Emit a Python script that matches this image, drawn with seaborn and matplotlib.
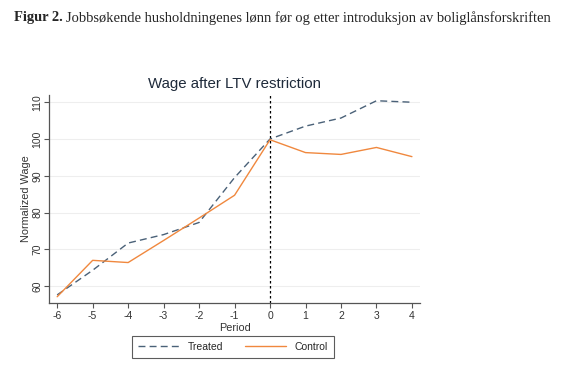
import matplotlib
matplotlib.use("Agg")
import matplotlib.pyplot as plt
import seaborn as sns
import pandas as pd

periods = [-6, -5, -4, -3, -2, -1, 0, 1, 2, 3, 4]
treated = [57.6, 64.3, 71.7, 74.0, 77.3, 89.5, 100.0, 103.5, 105.7, 110.4, 110.0]
control = [57.1, 67.0, 66.4, 72.4, 78.5, 84.7, 99.8, 96.3, 95.8, 97.7, 95.2]
yticks = [60, 70, 80, 90, 100, 110]
xticks = periods

sns.set_theme(style="white")
plt.rcParams['font.family'] = ['Liberation Sans', 'DejaVu Sans']

fig = plt.figure(figsize=(5.7, 3.72), dpi=100)
ax = fig.add_axes([0.086, 0.1855, 0.651, 0.5595])

df_t = pd.DataFrame({"Period": periods, "Wage": treated})
df_c = pd.DataFrame({"Period": periods, "Wage": control})

navy = "#4a6178"
orange = "#f0883e"
for y in yticks:
    ax.axhline(y, color="#eeeeee", lw=0.8, zorder=0)
sns.lineplot(data=df_t, x="Period", y="Wage", ax=ax, color=navy, lw=1.0,
             linestyle=(0, (5, 3)), label="Treated")
sns.lineplot(data=df_c, x="Period", y="Wage", ax=ax, color=orange, lw=1.0,
             label="Control")
ax.axvline(0, color="black", lw=0.9, linestyle=(0, (2, 2)), zorder=1)

ax.set_xlim(-6.23, 4.23)
ax.set_ylim(55.4, 112)
ax.set_xticks(xticks)
ax.set_xticklabels([str(p) for p in xticks], fontsize=7.5, color="#333333")
ax.set_yticks(yticks)
ax.set_yticklabels([str(v) for v in yticks], fontsize=7.5, color="#333333",
                   rotation=90, va="center")
ax.tick_params(axis="both", length=3.5, width=0.8, color="#555555",
               bottom=True, left=True)
ax.tick_params(axis="x", pad=2.5)
ax.tick_params(axis="y", pad=1.5)
for s in ["top", "right"]:
    ax.spines[s].set_visible(False)
for s in ["left", "bottom"]:
    ax.spines[s].set_color("#555555")
    ax.spines[s].set_linewidth(0.9)
ax.set_xlabel("Period", fontsize=7.8, color="#333333", labelpad=1)
ax.set_ylabel("Normalized Wage", fontsize=7.8, color="#333333", labelpad=1)
ax.set_title("Wage after LTV restriction", fontsize=10.8, color="#1e2a3a", pad=5)

ax.legend_.remove()
h, l = ax.get_legend_handles_labels()
leg = fig.legend(h, l, loc="center", bbox_to_anchor=(233/570, 1 - 347/372),
                 ncol=2, fontsize=7.5, frameon=True, fancybox=False,
                 edgecolor="#333333", handlelength=4.0, columnspacing=2.0,
                 borderpad=0.55, handletextpad=0.8)
leg.get_frame().set_linewidth(0.8)

t1 = fig.text(14/570, 1 - 18/372, "Figur 2.", fontsize=10.45, fontweight="bold",
              family=["Liberation Serif"], va="center", ha="left")
fig.canvas.draw()
bb = t1.get_window_extent()
x2 = (bb.x1 + 3) / fig.bbox.width
fig.text(x2, 1 - 18/372,
         "Jobbsøkende husholdningenes lønn før og etter introduksjon av boliglånsforskriften",
         fontsize=10.45, family=["Liberation Serif"], va="center", ha="left")

fig.savefig("out.png", dpi=100)
